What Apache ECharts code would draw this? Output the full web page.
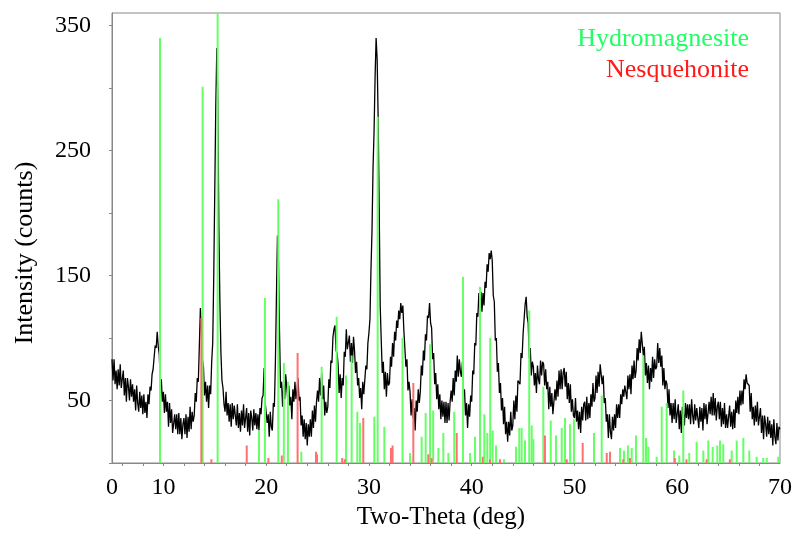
<!DOCTYPE html>
<html><head><meta charset="utf-8">
<script src="https://cdn.jsdelivr.net/npm/echarts@6.0.0/dist/echarts.min.js"></script>
<style>html,body{margin:0;padding:0;background:#fff}#chart{width:798px;height:542px}</style>
</head><body><div id="chart"></div>
<script>
const twoThetaStart = 5;
const twoThetaStep = 0.1;
const intensity = [
83,66,83,63,74,59,75,62,79,60,
59,74,54,68,49,68,61,50,67,53,
63,49,59,42,62,48,41,57,44,54,
39,55,40,49,36,55,47,61,58,71,
75,75,94,92,105,93,87,64,67,49,
57,40,55,41,49,29,48,32,43,24,
23,39,27,39,23,40,23,36,19,31,
36,23,39,20,37,25,45,27,41,33,
38,56,49,68,65,94,124,124,83,77,
54,65,49,62,44,62,55,81,96,149,
218,286,332,290,187,129,88,66,60,47,
41,57,38,48,33,47,29,48,35,46,
46,30,47,28,40,25,42,30,47,28,
28,44,25,40,22,42,36,26,43,30,
40,27,39,26,44,39,52,54,76,49,
49,32,39,21,41,29,26,48,45,81,
133,182,161,105,60,65,45,63,51,71,
71,51,62,46,53,35,59,49,65,51,
58,68,50,53,30,38,21,35,19,32,
14,31,21,35,21,42,28,46,33,49,
58,49,68,54,72,51,62,38,49,40,
45,67,60,82,80,101,107,110,90,88,
79,56,71,52,68,62,89,85,107,91,
90,102,81,96,80,101,90,72,81,62,
68,52,60,43,65,55,54,78,75,96,
104,115,155,186,236,265,309,340,323,275,
204,125,98,72,81,59,73,53,72,62,
64,85,77,96,85,105,98,114,108,122,
115,128,120,126,106,105,77,83,58,65,
57,38,51,36,44,26,50,41,59,48,
57,78,70,90,82,103,98,118,116,128,
112,108,83,88,63,72,51,63,43,55,
35,50,37,49,32,49,32,48,34,49,
58,49,68,54,74,65,86,69,83,73,
69,81,56,59,38,48,28,47,37,54,
49,74,71,96,94,120,117,136,130,137,
121,136,126,145,140,159,153,168,163,170,
162,134,129,98,100,73,80,56,64,42,
52,31,45,23,33,17,33,22,41,26,
30,50,35,54,41,66,66,63,88,84,
103,104,127,133,117,112,84,92,70,81,
77,62,72,56,78,67,63,82,70,81,
79,62,75,59,65,43,61,45,56,39,
40,59,50,66,53,74,59,75,59,72,
76,61,73,51,64,48,63,41,51,38,
36,52,33,42,27,41,24,45,34,47,
49,34,53,35,48,36,55,45,64,49,
52,70,56,73,61,79,78,63,70,48,
52,33,39,20,39,25,19,37,26,39,
28,47,36,47,36,55,47,59,53,62,
63,51,70,59,71,55,78,67,82,68,
74,92,82,99,88,105,104,86,93,70,
80,64,78,59,76,65,85,68,83,75,
77,96,80,92,77,86,62,76,59,66,
63,44,59,38,48,32,48,35,51,32,
31,47,27,42,24,45,40,30,48,36,
47,35,47,31,51,38,31,47,34,44,
43,28,45,33,44,26,48,35,47,31,
32,49,39,53,38,56,38,52,34,45,
49,35,49,29,44,31,48,28,39,28,
28,46,29,41,27,43,28,50,40,53,
39,58,46,58,47,67,59,71,64,65,
62,41,56,35,45,30,46,33,49,30,
29,44,24,38,19,38,31,21,37,23,
34,20,31,14,35,21,15,32,18,29,
27
];

// Reference stick patterns
const hydroTheta = [9.67,13.82,15.28,19.30,19.88,21.18,21.72,22.12,23.42,25.40,26.86,27.77,28.32,28.87,29.13,30.52,30.85,31.50,33.27,34.00,35.13,35.52,35.95,36.25,36.76,37.24,37.73,38.30,39.15,39.84,40.32,40.81,41.23,41.52,41.80,42.04,42.37,43.14,44.31,44.63,44.86,45.19,45.60,45.84,46.00,46.97,47.69,48.20,48.76,49.08,49.57,49.95,51.90,52.65,54.43,54.82,55.20,55.57,55.99,56.70,56.96,57.19,58.00,58.49,58.97,59.69,60.20,60.59,61.17,61.89,62.54,63.02,63.45,63.90,64.16,64.48,65.30,65.79,66.43,67.01,67.73,68.37,68.71,69.83];
const hydroInt   = [340,301,360,26,132,211,80,65,9,77,117,70,86,41,32,37,277,29,100,8,21,40,95,42,12,24,8,41,149,8,21,141,39,24,100,26,14,3,13,28,28,18,122,30,19,61,34,22,28,36,31,35,24,54,12,10,14,12,22,86,20,13,5,45,48,10,6,58,8,17,10,18,13,14,18,15,10,18,20,10,5,4,4,5];
const nesqTheta = [13.69,14.67,18.11,20.22,21.52,23.06,24.85,24.95,27.40,27.65,29.45,32.15,32.30,34.32,35.78,36.10,38.54,41.07,41.78,42.75,47.13,49.25,50.80,53.14,53.46,54.75,55.40,59.77,60.90,62.86,65.12];
const nesqInt   = [116,3,14,4,6,88,9,7,4,3,36,12,14,64,7,4,24,5,3,3,22,3,16,8,9,3,4,4,3,3,3];

// Axis ticks and labels
const xTickValues = [6,8,10,12,14,16,18,20,22,24,26,28,30,32,34,36,38,40,42,44,46,48,50,52,54,56,58,60,62,64,66,68];
const xLabelValues = [5,10,20,30,40,50,60,70];
const xLabelTexts = ['0','10','20','30','40','50','60','70'];
const yTickValues = [0,50,100,150,200,250,300,350];
const yLabelValues = [50,150,250,350];

const pattern = intensity.map((v, i) => [+(twoThetaStart + i * twoThetaStep).toFixed(2), v]);
const hydro = hydroTheta.map((t, i) => [t, hydroInt[i]]);
const nesq = nesqTheta.map((t, i) => [t, nesqInt[i]]);

const FONT = "'Liberation Serif', 'Times New Roman', serif";
const AXIS_COLOR = '#888888';
const GREEN = '#22ff66';
const RED = '#ff1a1a';

const chart = echarts.init(document.getElementById('chart'), null, {renderer: 'canvas'});
chart.setOption({
  animation: false,
  backgroundColor: '#ffffff',
  grid: {left: 112, right: 18, top: 13, bottom: 79, show: true, borderColor: AXIS_COLOR, borderWidth: 1},
  xAxis: {
    type: 'value', min: 5, max: 70,
    name: 'Two-Theta (deg)', nameLocation: 'middle', nameGap: 40,
    nameTextStyle: {fontFamily: FONT, fontSize: 25, color: '#000', padding: [0, 10, 0, 0]},
    axisLine: {show: true, onZero: false, lineStyle: {color: AXIS_COLOR, width: 1}},
    axisTick: {show: true, customValues: xTickValues, length: 3, inside: false, lineStyle: {color: AXIS_COLOR}},
    axisLabel: {customValues: xLabelValues, formatter: v => xLabelTexts[xLabelValues.indexOf(v)], margin: 13,
      fontFamily: FONT, fontSize: 24, color: '#000'},
    splitLine: {show: false}
  },
  yAxis: {
    type: 'value', min: 0, max: 360,
    name: 'Intensity (counts)', nameLocation: 'middle', nameGap: 74,
    nameTextStyle: {fontFamily: FONT, fontSize: 26, color: '#000', padding: [0, 30, 0, 0]},
    axisLine: {show: true, onZero: false, lineStyle: {color: AXIS_COLOR, width: 1}},
    axisTick: {show: true, customValues: yTickValues, length: 3, inside: false, lineStyle: {color: AXIS_COLOR}},
    axisLabel: {customValues: yLabelValues, margin: 21, fontFamily: FONT, fontSize: 24, color: '#000'},
    splitLine: {show: false}
  },
  legend: [
    {data: [{name: 'Hydromagnesite', icon: 'none'}], right: 44, top: 21, orient: 'vertical', align: 'left',
      itemWidth: 0, itemHeight: 26, selectedMode: false,
      textStyle: {fontFamily: FONT, fontSize: 26, color: GREEN}},
    {data: [{name: 'Nesquehonite', icon: 'none'}], right: 44, top: 52, orient: 'vertical', align: 'left',
      itemWidth: 0, itemHeight: 26, selectedMode: false,
      textStyle: {fontFamily: FONT, fontSize: 26, color: RED}}
  ],
  series: [
    {type: 'line', name: 'Pattern', data: pattern, showSymbol: false, symbol: 'none',
      lineStyle: {color: '#000', width: 1.3}, z: 2},
    {type: 'bar', name: 'Hydromagnesite', data: hydro, barWidth: 2, itemStyle: {color: '#66ff66'}, z: 3},
    {type: 'bar', name: 'Nesquehonite', data: nesq, barWidth: 2, barGap: '-100%', itemStyle: {color: '#ff7070'}, z: 3}
  ]
});
</script>
</body></html>
